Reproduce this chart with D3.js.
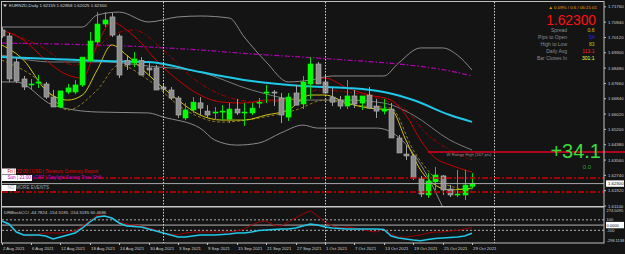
<!DOCTYPE html>
<html><head><meta charset="utf-8">
<script src="https://cdn.jsdelivr.net/npm/d3@7"></script>
<style>
body{margin:0;background:#141414;}
svg{display:block;font-family:"Liberation Sans",Arial,sans-serif;}
</style></head><body><div id="chart"></div>
<script>
// bars, 2 Aug - 29 Oct 2021
var dates = ['08-02','08-03','08-04','08-05','08-06','08-09','08-10','08-11','08-12','08-13','08-16','08-17','08-18','08-19','08-20','08-23','08-24','08-25','08-26','08-27','08-30','08-31',
  '09-01','09-02','09-03','09-06','09-07','09-08','09-09','09-10','09-13','09-14','09-15','09-16','09-17','09-20','09-21','09-22','09-23','09-24','09-27','09-28','09-29','09-30',
  '10-01','10-04','10-05','10-06','10-07','10-08','10-11','10-12','10-13','10-14','10-15','10-18','10-19','10-20','10-21','10-22','10-25','10-26','10-27','10-28','10-29'];
var open  = [1.7052,1.7020,1.6881,1.6790,1.6760,1.6768,1.6763,1.6693,1.6640,1.6720,1.6720,1.6758,1.6887,1.6988,1.7084,1.7122,1.7020,1.6889,1.6876,1.6889,1.6849,1.6849,1.6747,1.6731,1.6688,1.6581,1.6624,1.6662,1.6618,1.6613,1.6613,1.6575,1.6629,1.6613,1.6608,1.6661,1.6720,1.6720,1.6688,1.6586,1.6715,1.6656,1.6763,1.6870,1.6774,1.6693,1.6677,1.6645,1.6699,1.6661,1.6704,1.6645,1.6618,1.6629,1.6474,1.6388,1.6378,1.6255,1.6169,1.6239,1.6271,1.6201,1.6174,1.6169,1.62155];
var high  = [1.7068,1.7036,1.6903,1.6806,1.6790,1.6811,1.6774,1.6731,1.6661,1.6763,1.6784,1.6806,1.7041,1.7148,1.7148,1.7143,1.7031,1.6918,1.6934,1.6907,1.6876,1.6865,1.6763,1.6747,1.6699,1.6661,1.6693,1.6693,1.6650,1.6640,1.6650,1.6661,1.6683,1.6661,1.6661,1.6688,1.6758,1.6731,1.6715,1.6715,1.6758,1.6806,1.6907,1.6881,1.6811,1.6742,1.6699,1.6784,1.6731,1.6699,1.6747,1.6683,1.6683,1.6661,1.6490,1.6436,1.6388,1.6271,1.6287,1.6319,1.6276,1.6223,1.6303,1.6303,1.62858];
var low   = [1.7009,1.6773,1.6768,1.6731,1.6731,1.6742,1.6683,1.6640,1.6634,1.6709,1.6709,1.6747,1.6881,1.6978,1.7068,1.7015,1.6795,1.6838,1.6853,1.6811,1.6806,1.6731,1.6720,1.6677,1.6581,1.6570,1.6608,1.6597,1.6581,1.6570,1.6570,1.6554,1.6597,1.6538,1.6597,1.6634,1.6661,1.6645,1.6554,1.6565,1.6650,1.6629,1.6683,1.6774,1.6747,1.6645,1.6629,1.6629,1.6634,1.6624,1.6640,1.6581,1.6600,1.6618,1.6420,1.6356,1.6249,1.6158,1.6153,1.6196,1.6169,1.6158,1.6158,1.6142,1.62025];
var close = [1.7020,1.6790,1.6779,1.6747,1.6763,1.6774,1.6693,1.6640,1.6726,1.6742,1.6758,1.6907,1.6993,1.7084,1.7106,1.7025,1.6811,1.6865,1.6897,1.6811,1.6838,1.6731,1.6736,1.6688,1.6597,1.6624,1.6666,1.6634,1.6597,1.6613,1.6618,1.6629,1.6608,1.6613,1.6634,1.6666,1.6720,1.6715,1.6597,1.6693,1.6650,1.6774,1.6870,1.6763,1.6715,1.6666,1.6645,1.6699,1.6656,1.6699,1.6634,1.6618,1.6629,1.6474,1.6394,1.6378,1.6260,1.6174,1.6244,1.6276,1.6196,1.6169,1.6174,1.6222,1.62300];

// indicator lines, [bar index, price]
var maCyan    = [[0,1.6907],[7,1.6897],[14,1.6886],[20,1.6881],[27,1.6827],[34,1.6779],[41,1.6752],[47,1.6742],[52,1.6720],[56,1.6677],[61,1.6597],[64,1.6560]];
var maMagenta = [[0,1.6982],[20,1.6961],[27,1.6945],[34,1.6924],[41,1.6907],[47,1.6891],[54,1.6870],[61,1.6833],[64,1.6806]];
var bbUpper   = [[0,1.7068],[11,1.7068],[13,1.7132],[16,1.7148],[20,1.7095],[24,1.7122],[27,1.7127],[31,1.7116],[33,1.7015],[36,1.6881],[39,1.6774],[42,1.6784],[45,1.6806],[52,1.6806],[54,1.6875],[57,1.6956],[60,1.6956],[62,1.6918],[64,1.6838]];
var bbMiddle  = [[0,1.6918],[7,1.6881],[14,1.6881],[20,1.6859],[27,1.6827],[34,1.6731],[41,1.6677],[47,1.6677],[52,1.6661],[56,1.6597],[61,1.6463],[64,1.6410]];
var bbLower   = [[0,1.6774],[2,1.6774],[7,1.6650],[13,1.6613],[20,1.6608],[22,1.6586],[27,1.6527],[29,1.6463],[32,1.6436],[35,1.6447],[38,1.6501],[41,1.6543],[43,1.6527],[51,1.6527],[54,1.6479],[58,1.6265],[60,1.6105]];
var maRed     = [[0,1.7052],[3,1.6998],[6,1.6891],[9,1.6811],[11,1.6795],[13,1.6972],[15,1.7095],[17,1.7052],[19,1.6982],[21,1.6891],[24,1.6784],[27,1.6704],[30,1.6666],[33,1.6661],[36,1.6677],[39,1.6677],[42,1.6758],[44,1.6795],[47,1.6742],[50,1.6704],[53,1.6677],[55,1.6597],[57,1.6463],[59,1.6367],[61,1.6330],[64,1.6292]];
var maRedDash = [[0,1.7052],[5,1.6972],[10,1.6864],[12,1.6918],[15,1.7025],[18,1.7052],[22,1.6945],[26,1.6795],[30,1.6704],[35,1.6666],[40,1.6677],[43,1.6731],[47,1.6720],[52,1.6677],[55,1.6624],[58,1.6490],[61,1.6410],[64,1.6356]];
var maYellow  = [[0,1.6972],[3,1.6891],[6,1.6731],[9,1.6677],[11,1.6704],[13,1.6838],[15,1.6972],[17,1.6918],[20,1.6811],[24,1.6677],[27,1.6597],[30,1.6570],[33,1.6570],[36,1.6597],[39,1.6624],[42,1.6704],[44,1.6704],[47,1.6661],[50,1.6634],[53,1.6624],[55,1.6463],[57,1.6303],[59,1.6222],[61,1.6196],[64,1.6206]];
var maOlive   = [[0,1.6891],[5,1.6784],[9,1.6624],[13,1.6731],[16,1.6865],[20,1.6784],[25,1.6624],[30,1.6559],[35,1.6581],[40,1.6624],[44,1.6677],[48,1.6650],[53,1.6634],[56,1.6410],[59,1.6260],[62,1.6206],[64,1.6196]];

// CCI sub-window
var cciMain = [78,21,-132,-189,-189,-189,-208,-265,-227,-189,-151,-55,59,155,174,135,40,-17,-27,-36,-74,-113,-151,-189,-227,-227,-208,-189,-189,-189,-179,-170,-151,-151,-132,-103,-93,-84,-74,-74,-55,-17,21,2,-36,-55,-65,-74,-74,-74,-74,-74,-84,-208,-246,-265,-284,-298.1,-275,-256,-246,-237,-227,-208,-154.5];
var cciSignal = [97,21,-113,-189,-208,-170,-151,-151,-151,-132,-113,-17,78,193,183,135,59,21,2,-17,-55,-93,-151,-170,-189,-151,-132,-132,-132,-132,-132,-132,-113,-74,2,59,78,2,-17,59,135,212,274.5,174,59,-17,-55,-36,-55,-84,-113,-132,-74,-170,-227,-227,-208,-189,-151,-132,-132,-113,-103,-74,-44.8];
var cciLevels = [100, 0, -100];
var cciTickLabels = ['274.5095','100','0.0000','-100','-298.1138'];
var cciTickValues = [274.5095,100,0,-100,-298.1138];

var priceTicks = [1.71760,1.70940,1.70120,1.69300,1.68480,1.67660,1.66840,1.66020,1.65200,1.64380,1.63560,1.62740,1.61920,1.61100];
var dateTicks = [[0,'2 Aug 2021'],[4,'6 Aug 2021'],[8,'12 Aug 2021'],[12,'18 Aug 2021'],[16,'24 Aug 2021'],[20,'30 Aug 2021'],[24,'3 Sep 2021'],[28,'9 Sep 2021'],[32,'15 Sep 2021'],[36,'21 Sep 2021'],[40,'27 Sep 2021'],[44,'1 Oct 2021'],[48,'7 Oct 2021'],[52,'13 Oct 2021'],[56,'19 Oct 2021'],[60,'25 Oct 2021'],[64,'29 Oct 2021']];
var separators = [22, 44, 67];

var bid = 1.62300;
var rangeHigh = 1.6399;
var eventLines = [1.6260, 1.6185];

var infoLabels = ['Spread','Pips to Open','High to Low','Daily Avg','Bar Closes In'];
var infoValues = ['0.6','54','83','113.1','301:1'];
var infoColors = ['#e0c000','#2020ff','#c8c800','#ff2020','#ffff40'];

var W = 625, H = 254;
var plotL = 2, plotR = 604, mainT = 2, mainB = 206, cciT = 208, cciB = 243;

var svg = d3.select('#chart').append('svg').attr('width', W).attr('height', H);
svg.append('rect').attr('width', W).attr('height', H).attr('fill', '#141414');

var defs = svg.append('defs');
defs.append('clipPath').attr('id', 'clipMain').append('rect')
  .attr('x', plotL).attr('y', mainT).attr('width', plotR - plotL).attr('height', mainB - mainT);
defs.append('clipPath').attr('id', 'clipCci').append('rect')
  .attr('x', plotL).attr('y', cciT).attr('width', plotR - plotL).attr('height', cciB - cciT);

var x = d3.scaleLinear().domain([0, 64]).range([1.6, 472]);
var y = d3.scaleLinear().domain([1.611, 1.7176]).range([206, 6.85]);
var yc = d3.scaleLinear().domain([-298.1138, 274.5095]).range([240.7, 210.7]);

var main = svg.append('g').attr('clip-path', 'url(#clipMain)');
var sub = svg.append('g').attr('clip-path', 'url(#clipCci)');

// period separators
separators.forEach(function(i) {
  svg.append('line').attr('x1', Math.round(x(i)) + 0.5).attr('x2', Math.round(x(i)) + 0.5)
    .attr('y1', mainT).attr('y2', cciB)
    .attr('stroke', '#d0d0d0').attr('stroke-width', 1).attr('stroke-dasharray', '1.5,1.5');
});

function drawLine(g, pts, color, width, dash) {
  var line = d3.line().x(d => x(d[0])).y(d => y(d[1])).curve(d3.curveMonotoneX);
  g.append('path').attr('d', line(pts)).attr('fill', 'none')
    .attr('stroke', color).attr('stroke-width', width)
    .attr('stroke-dasharray', dash || null);
}

drawLine(main, bbUpper, '#8a8a8a', 1);
drawLine(main, bbMiddle, '#7a7a7a', 1);
drawLine(main, bbLower, '#8a8a8a', 1);
drawLine(main, maMagenta, '#b400b4', 1.2, '5,2,1.5,2');
drawLine(main, maOlive, '#8c7a20', 1, '3,2');
drawLine(main, maRedDash, '#a00000', 1, '5,2,1.5,2');
drawLine(main, maRed, '#c80000', 1);
drawLine(main, maYellow, '#d2c814', 1);
drawLine(main, maCyan, '#20c8ea', 2);

// candles
var bw = 5;
var candles = main.selectAll('g.candle').data(dates).enter().append('g');
candles.append('line')
  .attr('x1', (d, i) => Math.round(x(i)) + 0.5).attr('x2', (d, i) => Math.round(x(i)) + 0.5)
  .attr('y1', (d, i) => y(high[i])).attr('y2', (d, i) => y(low[i]))
  .attr('stroke', (d, i) => close[i] >= open[i] ? '#00e000' : '#a0a0a0');
candles.append('rect')
  .attr('x', (d, i) => Math.round(x(i)) - 2)
  .attr('width', bw)
  .attr('y', (d, i) => y(Math.max(open[i], close[i])))
  .attr('height', (d, i) => Math.max(1, Math.abs(y(open[i]) - y(close[i]))))
  .attr('fill', (d, i) => close[i] >= open[i] ? '#00ff00' : '#8c8c8c')
  .attr('stroke', (d, i) => close[i] >= open[i] ? '#00ff00' : '#b4b4b4')
  .attr('stroke-width', 0.6);

// horizontal levels
eventLines.forEach(function(p) {
  svg.append('line').attr('x1', plotL).attr('x2', plotR).attr('y1', y(p)).attr('y2', y(p))
    .attr('stroke', '#c80000').attr('stroke-width', 1.3).attr('stroke-dasharray', '6,2,2,2');
});
svg.append('line').attr('x1', plotL).attr('x2', plotR).attr('y1', y(bid)).attr('y2', y(bid))
  .attr('stroke', '#a8a8a8').attr('stroke-width', 1);
svg.append('line').attr('x1', x(58)).attr('x2', W).attr('y1', y(rangeHigh)).attr('y2', y(rangeHigh))
  .attr('stroke', '#e00020').attr('stroke-width', 1.3);
svg.append('text').attr('x', x(60) + 4).attr('y', y(rangeHigh) + 4)
  .attr('font-size', 4.2).attr('fill', '#909090').text('W Range High (167 pts)');

// CCI
cciLevels.forEach(function(v) {
  sub.append('line').attr('x1', plotL).attr('x2', plotR).attr('y1', yc(v)).attr('y2', yc(v))
    .attr('stroke', '#b0b0b0').attr('stroke-width', 1)
    .attr('stroke-dasharray', v === 0 ? null : '2,2');
});
var cciLine = d3.line().x((d, i) => x(i)).y(d => yc(d));
sub.append('path').attr('d', cciLine(cciSignal)).attr('fill', 'none').attr('stroke', '#a00000').attr('stroke-width', 1);
sub.append('path').attr('d', cciLine(cciMain)).attr('fill', 'none').attr('stroke', '#20c8ea').attr('stroke-width', 1.5);
svg.append('text').attr('x', 4).attr('y', 213.5).attr('font-size', 4.4).attr('fill', '#c8c8c8')
  .text('DRBlockCCI -44.7824 -154.5185 -154.5185 60.4686');

// frames
svg.append('rect').attr('x', 1.5).attr('y', 1.5).attr('width', plotR - 1.5).attr('height', cciB - 1.5)
  .attr('fill', 'none').attr('stroke', '#c0c0c0').attr('stroke-width', 1);
svg.append('line').attr('x1', 1.5).attr('x2', plotR).attr('y1', 206.8).attr('y2', 206.8)
  .attr('stroke', '#c8c8c8').attr('stroke-width', 1.6);

// price axis
var axisG = svg.append('g').attr('font-size', 4.3).attr('fill', '#d0d0d0');
priceTicks.forEach(function(p) {
  svg.append('line').attr('x1', plotR).attr('x2', plotR + 2).attr('y1', y(p)).attr('y2', y(p)).attr('stroke', '#c0c0c0');
  axisG.append('text').attr('x', plotR + 4).attr('y', y(p) + 1.6).text(p.toFixed(5));
});
svg.append('rect').attr('x', plotR + 2).attr('y', y(bid) - 3.2).attr('width', 18).attr('height', 6.4).attr('fill', '#ffffff');
svg.append('text').attr('x', plotR + 4).attr('y', y(bid) + 1.6).attr('font-size', 4.3).attr('fill', '#000').text(bid.toFixed(5));

cciTickValues.forEach(function(v, k) {
  var isZero = v === 0;
  if (isZero) svg.append('rect').attr('x', plotR + 2).attr('y', yc(v) - 3.2).attr('width', 18).attr('height', 6.4).attr('fill', '#ffffff');
  svg.append('text').attr('x', plotR + 2.5).attr('y', yc(v) + 1.5).attr('font-size', 4.0)
    .attr('fill', isZero ? '#000' : '#d0d0d0').text(cciTickLabels[k]);
});

// date axis
dateTicks.forEach(function(t) {
  var xx = Math.round(x(t[0])) + 0.5;
  svg.append('line').attr('x1', xx).attr('x2', xx).attr('y1', cciB).attr('y2', cciB + 2).attr('stroke', '#c0c0c0');
  svg.append('text').attr('x', xx + 0.5).attr('y', 249.5).attr('font-size', 4.3).attr('fill', '#d0d0d0').text(t[1]);
});

// title
svg.append('path').attr('d', 'M3,4.5 L7,4.5 L5,7 Z').attr('fill', '#e0e0e0');
svg.append('text').attr('x', 9).attr('y', 7.3).attr('font-size', 4.4).attr('fill', '#d8d8d8')
  .text('EURNZD,Daily  1.62155 1.62858 1.62025 1.62300');

// info panel
svg.append('text').attr('x', 597).attr('y', 8.5).attr('font-size', 4.4).attr('fill', '#e8a000')
  .attr('text-anchor', 'end').text('\u25B2 0.09% / 0.6 / 06:21:01');
svg.append('text').attr('x', 596).attr('y', 24.5).attr('font-size', 13.8).attr('fill', '#ff1010')
  .attr('text-anchor', 'end').text('1.62300');
infoLabels.forEach(function(l, k) {
  var yy = 31.8 + k * 7.0;
  svg.append('text').attr('x', 567).attr('y', yy).attr('font-size', 5.0).attr('fill', '#8c8c8c')
    .attr('text-anchor', 'end').text(l);
  svg.append('text').attr('x', 594.5).attr('y', yy).attr('font-size', 5.0).attr('fill', infoColors[k])
    .attr('text-anchor', 'end').text(infoValues[k]);
});
svg.append('text').attr('x', 601).attr('y', 157.5).attr('font-size', 20).attr('fill', '#3cdc3c')
  .attr('text-anchor', 'end').text('+34.1');
svg.append('text').attr('x', 591).attr('y', 168.5).attr('font-size', 6).attr('fill', '#30a030')
  .attr('text-anchor', 'end').text('0.0');

// news events
svg.append('rect').attr('x', 2).attr('y', 168.5).attr('width', 14).attr('height', 6).attr('fill', '#fff');
svg.append('text').attr('x', 7.5).attr('y', 173).attr('font-size', 4.6).attr('fill', '#e00000')
  .text('Fri | 22:00 | USD | Treasury Currency Report');
svg.append('rect').attr('x', 2).attr('y', 175).attr('width', 30).attr('height', 6).attr('fill', '#fff');
svg.append('text').attr('x', 7.5).attr('y', 179).attr('font-size', 4.6).attr('fill', '#c000c0')
  .text('Sun | 21:00 | GBP | Daylight Saving Time Shift');
svg.append('rect').attr('x', 2).attr('y', 185).attr('width', 14).attr('height', 6).attr('fill', '#fff');
svg.append('text').attr('x', 7.5).attr('y', 189).attr('font-size', 4.6).attr('fill', '#a0a0a0')
  .text('NO MORE EVENTS');
</script></body></html>
